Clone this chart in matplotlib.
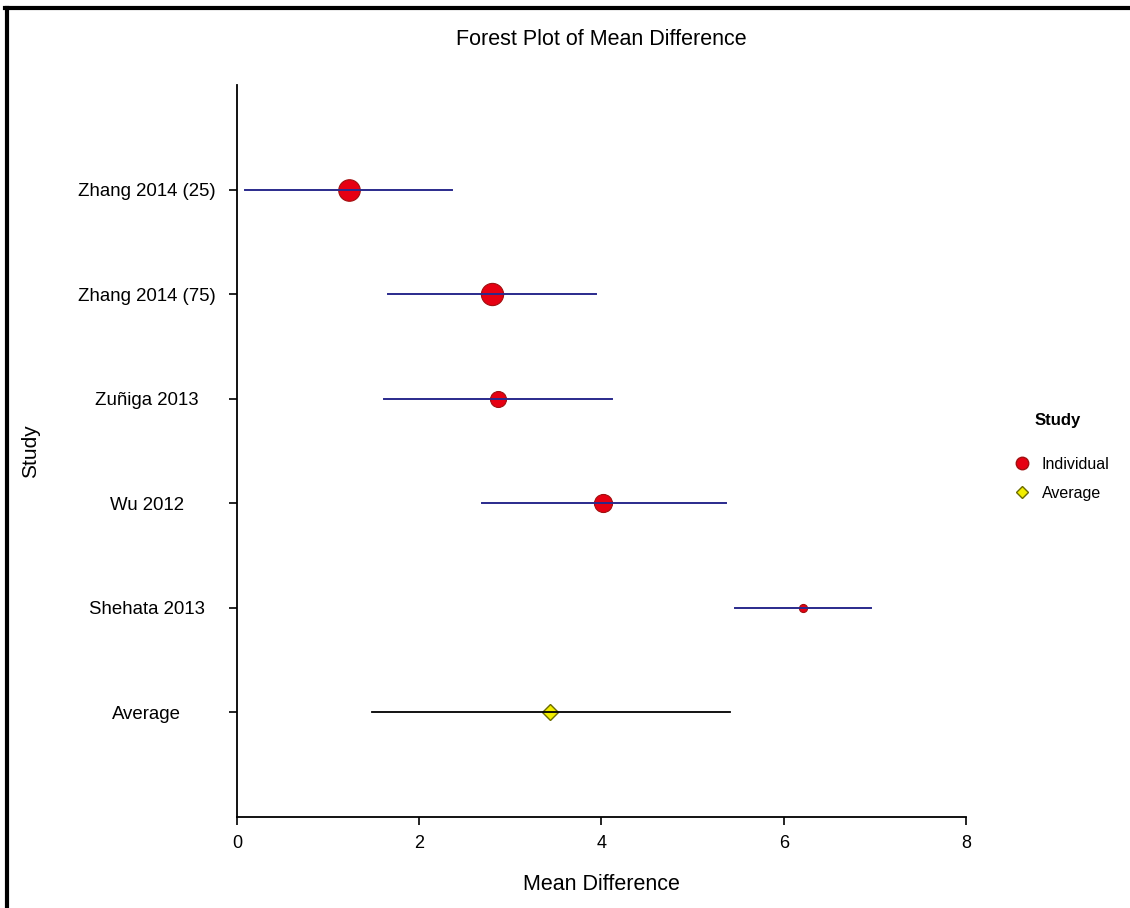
import matplotlib
matplotlib.use('Agg')
import matplotlib.pyplot as plt
from matplotlib.lines import Line2D

studies = ['Zhang 2014 (25)', 'Zhang 2014 (75)', 'Zuñiga 2013', 'Wu 2012', 'Shehata 2013', 'Average']
mean_diff = [1.23, 2.80, 2.86, 4.02, 6.21, 3.44]
ci_low = [0.09, 1.66, 1.61, 2.69, 5.47, 1.48]
ci_high = [2.36, 3.94, 4.12, 5.37, 6.96, 5.41]
weights = [15.5, 16.0, 11.5, 13.0, 5.8, 8.5]
x_ticks = [0, 2, 4, 6, 8]

plt.rcParams['font.family'] = ['Liberation Sans', 'DejaVu Sans']

fig = plt.figure(figsize=(11.3, 9.08), dpi=100)
ax = fig.add_axes([0.2097, 0.1002, 0.6452, 0.8062])

n = len(studies)
ypos = list(range(n, 0, -1))

for i in range(n):
    y = ypos[i]
    if studies[i] == 'Average':
        ax.plot(mean_diff[i], y, marker='D', ms=weights[i], mfc='#f2ee00', mec='#6b6b00', mew=1.0, ls='none', zorder=2)
        ax.plot([ci_low[i], ci_high[i]], [y, y], color='black', lw=1.3, zorder=3)
    else:
        ax.plot(mean_diff[i], y, marker='o', ms=weights[i], mfc='#e60012', mec='#a01010', mew=0.8, ls='none', zorder=2)
        ax.plot([ci_low[i], ci_high[i]], [y, y], color='#2a2a8c', lw=1.4, zorder=3)

ax.set_xlim(0, 8)
ax.set_ylim(0, 7)
ax.set_xticks(x_ticks)
ax.set_xticklabels([str(t) for t in x_ticks], fontsize=13)
ax.set_yticks(ypos)
ax.set_yticklabels(studies, fontsize=13.4, ha='center')
ax.tick_params(axis='y', length=6, pad=59, width=1.2)
ax.tick_params(axis='x', length=6, pad=7, width=1.2)
ax.spines['top'].set_visible(False)
ax.spines['right'].set_visible(False)
ax.spines['left'].set_linewidth(1.3)
ax.spines['bottom'].set_linewidth(1.3)

ax.set_xlabel('Mean Difference', fontsize=15.5, labelpad=16)
ax.set_ylabel('Study', fontsize=15)
ax.yaxis.set_label_coords(-0.27, 0.5)
fig.text(0.532, 0.957, 'Forest Plot of Mean Difference', ha='center', va='center', fontsize=15.5)

handles = [
    Line2D([], [], marker='o', ls='none', ms=9, mfc='#e60012', mec='#a01010', label='Individual'),
    Line2D([], [], marker='D', ls='none', ms=6.5, mfc='#f2ee00', mec='#6b6b00', label='Average'),
]
leg = fig.legend(handles=handles, title='Study', loc='center left', bbox_to_anchor=(0.878, 0.497),
                 frameon=False, fontsize=11.5, handletextpad=0.2, labelspacing=0.85)
leg.get_title().set_fontweight('bold')
leg.get_title().set_fontsize(12)
leg._legend_box.sep = 21

# border on the left and top edge of the picture
fig.add_artist(Line2D([0.0062, 0.0062], [0.0, 0.9913], transform=fig.transFigure, color='black', lw=3.0))
fig.add_artist(Line2D([0.004, 1.0], [0.9913, 0.9913], transform=fig.transFigure, color='black', lw=3.0))

fig.savefig('out.png', dpi=100)
